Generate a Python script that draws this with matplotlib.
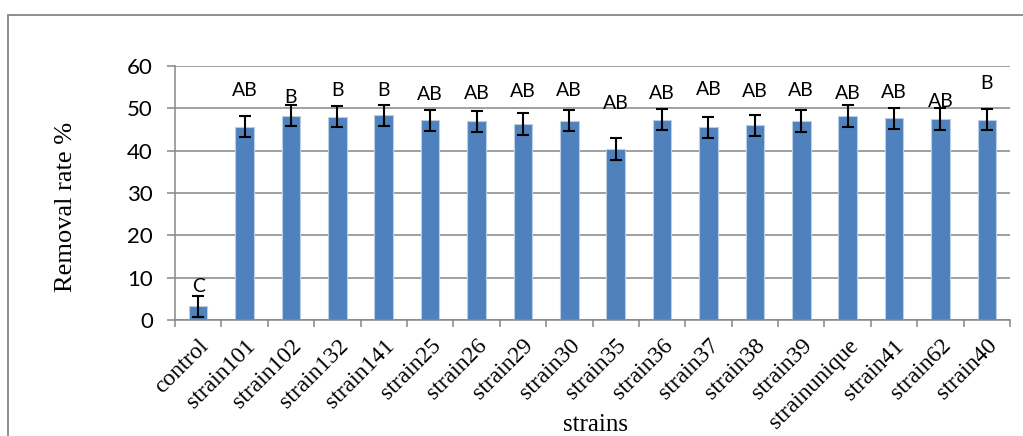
import numpy as np
import matplotlib
matplotlib.use('Agg')
import matplotlib.pyplot as plt
from matplotlib.patches import Rectangle

# removal rate per strain (%), standard error and significance groups
strains = ['control', 'strain101', 'strain102', 'strain132', 'strain141', 'strain25',
           'strain26', 'strain29', 'strain30', 'strain35', 'strain36', 'strain37',
           'strain38', 'strain39', 'strainunique', 'strain41', 'strain62', 'strain40']
removal = [3.2, 45.7, 48.3, 48.0, 48.4, 47.2, 46.9, 46.3, 47.1, 40.4, 47.3, 45.5,
           46.0, 47.0, 48.2, 47.6, 47.5, 47.3]
err = [2.4, 2.5, 2.5, 2.5, 2.5, 2.5, 2.4, 2.5, 2.5, 2.5, 2.5, 2.5,
       2.5, 2.5, 2.5, 2.5, 2.5, 2.5]
groups = ['C', 'AB', 'B', 'B', 'B', 'AB', 'AB', 'AB', 'AB', 'AB', 'AB', 'AB',
          'AB', 'AB', 'AB', 'AB', 'AB', 'B']
# height (in % units) where each group letter sits
group_y = [7.8, 54.3, 52.5, 54.2, 54.2, 53.3, 53.5, 53.9, 54.2, 51.2, 53.5, 54.5,
           54.0, 54.2, 53.5, 53.8, 51.6, 55.8]

GRAY = '#868686'
BLUE = '#4f81bd'

fig = plt.figure(figsize=(10.23, 4.36), dpi=100)
ax = fig.add_axes([175 / 1023, 116 / 436, 835 / 1023, 254 / 436])

x = np.arange(len(strains))
ax.bar(x, removal, width=0.4, color=BLUE, edgecolor='#b9cde5', linewidth=0.8, zorder=2)
ax.errorbar(x, removal, yerr=err, fmt='none', ecolor='black', elinewidth=1.5,
            capsize=4, capthick=1.5, zorder=3)

for xi, g, gy in zip(x, groups, group_y):
    ax.text(xi, gy, g, ha='center', va='center', fontsize=14,
            family='Lato', color='black', zorder=4)

ax.set_xlim(-0.5, len(strains) - 0.5)
ax.set_ylim(0, 60)
ax.set_yticks(np.arange(0, 61, 10))
ax.yaxis.grid(True, color=GRAY, linewidth=1.1, zorder=0)
ax.set_axisbelow(True)

for side in ['top', 'right']:
    ax.spines[side].set_visible(False)
for side in ['left', 'bottom']:
    ax.spines[side].set_color(GRAY)
    ax.spines[side].set_linewidth(1.1)

# category labels under the bars, tick marks at category boundaries
ax.set_xticks(x)
ax.set_xticklabels(strains, rotation=45, ha='right', va='top',
                   rotation_mode='anchor', fontsize=17, family='Liberation Serif')
ax.tick_params(axis='x', which='major', length=0, pad=11)
ax.set_xticks(np.arange(len(strains) + 1) - 0.5, minor=True)
ax.tick_params(axis='x', which='minor', length=5, width=1.1, color=GRAY, direction='out')
ax.tick_params(axis='y', length=6, width=1.1, color=GRAY, pad=10)
for lab in ax.get_yticklabels():
    lab.set_family('Lato')
    lab.set_fontsize(16)

fig.text(595 / 1023, 1 - 425 / 436, 'strains', ha='center', va='center',
         fontsize=18, family='Liberation Serif')
fig.text(66 / 1023, 1 - 207 / 436, 'Removal rate %', ha='center', va='center',
         rotation=90, fontsize=19, family='Liberation Serif')

# chart frame
fig.patches.append(Rectangle((8 / 1023, -0.1), 1.2, 1 - 15 / 436 + 0.1,
                             transform=fig.transFigure, fill=False,
                             edgecolor=GRAY, linewidth=1.3))

fig.savefig('out.png', dpi=100)
